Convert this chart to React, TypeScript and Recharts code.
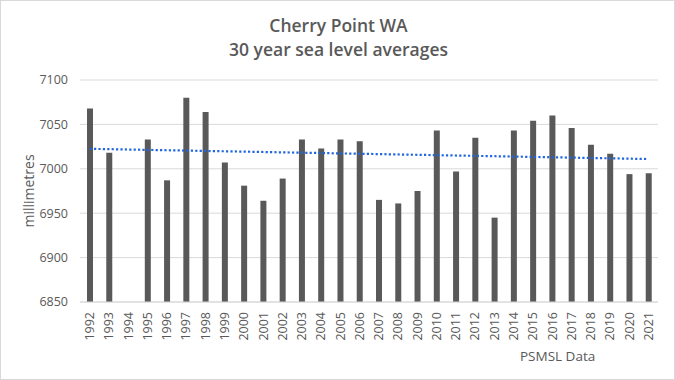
import React from 'react';
import { BarChart, Bar, XAxis, YAxis, CartesianGrid, ReferenceLine, Label } from 'recharts';

const years = ['1992','1993','1994','1995','1996','1997','1998','1999','2000','2001','2002','2003','2004','2005','2006','2007','2008','2009','2010','2011','2012','2013','2014','2015','2016','2017','2018','2019','2020','2021'];
const levels: (number | null)[] = [7068,7018,null,7033,6987,7080,7064,7007,6981,6964,6989,7033,7023,7033,7031,6965,6961,6975,7043,6997,7035,6945,7043,7054,7060,7046,7027,7017,6994,6995];
const yTicks = [6850, 6900, 6950, 7000, 7050, 7100];
const trendYears = ['1992', '2021'];
const trendValues = [7022.5, 7011];

const data = years.map((y, i) => ({ year: y, level: levels[i] }));

const FONT = "'Open Sans', 'Liberation Sans', sans-serif";
const TEXT = '#595959';

const XTick = (props: any) => {
  const { x, y, payload } = props;
  return (
    <g transform={`translate(${x},${y})`}>
      <text transform="rotate(-90)" x={0} y={0} dy="0.36em" textAnchor="end" fill={TEXT} fontSize={12.5} fontFamily={FONT}>
        {payload.value}
      </text>
    </g>
  );
};

export default function App() {
  return (
    <div style={{ position: 'absolute', left: 0, top: 0, width: 675, height: 380, background: '#fff', boxSizing: 'border-box', border: '1px solid #d9d9d9', fontFamily: FONT }}>
      <div style={{ position: 'absolute', left: 0, top: 12, width: 675, textAlign: 'center', color: TEXT, fontSize: 17.5, fontWeight: 600, lineHeight: '24px' }}>
        <div>Cherry Point WA</div>
        <div>30 year sea level averages</div>
      </div>
      <div style={{ position: 'absolute', left: 519, top: 346, color: TEXT, fontSize: 13.5 }}>PSMSL Data</div>
      <div style={{ position: 'absolute', left: -1, top: -1 }}>
        <BarChart width={675} height={380} data={data} margin={{ top: 80, right: 17, bottom: 0, left: 0 }} barCategoryGap={0}>
          <CartesianGrid vertical={false} stroke="#d9d9d9" strokeWidth={1} />
          <XAxis dataKey="year" interval={0} height={78} axisLine={{ stroke: '#d9d9d9' }} tickLine={false} tick={<XTick />} tickSize={6} tickMargin={4} />
          <YAxis domain={[6850, 7100]} ticks={yTicks} width={80} axisLine={false} tickLine={false} tickMargin={6}
            tick={{ fill: TEXT, fontSize: 12.5, fontFamily: FONT }}>
            <Label value="millimetres" angle={-90} position="insideLeft" offset={29} style={{ fill: TEXT, fontSize: 14, fontFamily: FONT, textAnchor: 'middle' }} />
          </YAxis>
          <Bar dataKey="level" fill="#595959" barSize={6} isAnimationActive={false} />
          <ReferenceLine
            segment={[{ x: trendYears[0], y: trendValues[0] }, { x: trendYears[1], y: trendValues[1] }]}
            stroke="#1f66e0" strokeWidth={2.2} strokeDasharray="2.2 2.2" />
        </BarChart>
      </div>
    </div>
  );
}
